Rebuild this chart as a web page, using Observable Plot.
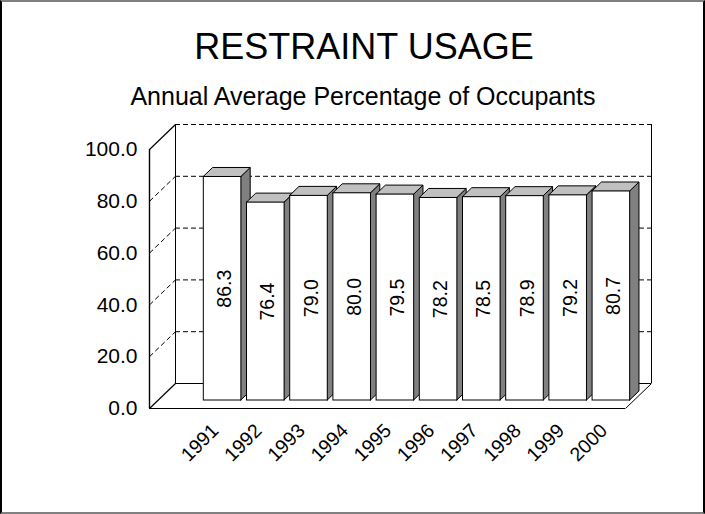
<!DOCTYPE html>
<html><head><meta charset="utf-8">
<script src="https://cdn.jsdelivr.net/npm/d3@7"></script>
<script src="https://cdn.jsdelivr.net/npm/@observablehq/plot@0.6"></script>
<style>
html,body{margin:0;padding:0;background:#fff;}
#page{position:relative;width:705px;height:514px;overflow:hidden;font-family:"Liberation Sans",Arial,sans-serif;color:#000;background:#fff;}
#title{position:absolute;left:23px;width:682px;top:28.5px;font-size:36px;line-height:36px;text-align:center;white-space:nowrap;}
#subtitle{position:absolute;left:21px;width:684px;top:83.8px;font-size:25px;line-height:25px;text-align:center;white-space:nowrap;}
#chart{position:absolute;left:0;top:112px;}
#frame{position:absolute;left:0;top:0;width:705px;height:514px;box-sizing:border-box;border-style:solid;border-width:2px;border-color:#808080 #000 #808080 #000;pointer-events:none;}
</style>
</head><body>
<div id="page">
  <div id="title">RESTRAINT USAGE</div>
  <div id="subtitle">Annual Average Percentage of Occupants</div>
  <div id="chart"></div>
  <div id="frame"></div>
</div>
<script>
// ---- data ----
const years = ["1991","1992","1993","1994","1995","1996","1997","1998","1999","2000"];
const values = [86.3, 76.4, 79.0, 80.0, 79.5, 78.2, 78.5, 78.9, 79.2, 80.7];
const yTicks = [0, 20, 40, 60, 80, 100];
const gridLevels = [20, 40, 60, 80];

// ---- layout ----
const W = 705, H = 400;
const mL = 149, mR = 80, mT = 37, mB = 104;
const X0 = -1.065, X1 = 9.954;
const kx = (W - mL - mR) / (X1 - X0);
const ky = (H - mT - mB) / 100;
const barW = 0.87;
const FRONT = [8.3, -8];   // bar front plane offset (px)
const DEPTH = [9.3, -9];   // bar depth (px)
const WALL = [26, -25];    // back wall offset (px)
const bdx = DEPTH[0] / kx, bdy = -DEPTH[1] / ky;
const wdx = WALL[0] / kx, wdy = -WALL[1] / ky;

const bars = years.map((year, i) => ({year, i, value: values[i]}));
const sides = bars.flatMap(d => [
  {year: d.year, x: d.i + barW, y1: 0, y2: d.value},
  {year: d.year, x: d.i + barW + bdx, y1: bdy, y2: d.value + bdy}
]);
const tops = bars.flatMap(d => [
  {year: d.year, y: d.value, x1: d.i, x2: d.i + barW},
  {year: d.year, y: d.value + bdy, x1: d.i + bdx, x2: d.i + barW + bdx}
]);

const chart = Plot.plot({
  width: W, height: H,
  marginLeft: mL, marginRight: mR, marginTop: mT, marginBottom: mB,
  style: {fontFamily: "'Liberation Sans', Arial, sans-serif", fontSize: "21px", background: "white", color: "black"},
  x: {domain: [X0, X1], axis: null},
  y: {domain: [0, 100], ticks: yTicks, tickFormat: d => d.toFixed(1), tickSize: 0, tickPadding: 12, label: null},
  marks: [
    // back wall
    Plot.ruleY(gridLevels.concat([100]), {x1: X0, x2: X1, dx: WALL[0], dy: WALL[1], stroke: "black", strokeWidth: 1, strokeDasharray: "5,3"}),
    Plot.ruleY([0], {x1: X0, x2: X1, dx: WALL[0], dy: WALL[1], stroke: "black", strokeWidth: 1}),
    Plot.ruleX([X0, X1], {y1: 0, y2: 100, dx: WALL[0], dy: WALL[1], stroke: "black", strokeWidth: 1}),
    // left wall
    Plot.link(gridLevels, {x1: X0, y1: d => d, x2: X0 + wdx, y2: d => d + wdy, stroke: "black", strokeWidth: 1, strokeDasharray: "5,3"}),
    Plot.link([0, 100], {x1: X0, y1: d => d, x2: X0 + wdx, y2: d => d + wdy, stroke: "black", strokeWidth: 1.2}),
    Plot.ruleX([X0], {y1: 0, y2: 100, stroke: "black", strokeWidth: 1.4}),
    // floor
    Plot.ruleY([0], {x1: X0, x2: X1, stroke: "black", strokeWidth: 1.2}),
    Plot.link([0], {x1: X1, y1: 0, x2: X1 + wdx, y2: wdy, stroke: "black", strokeWidth: 1}),
    // bars
    Plot.areaY(sides, {x: "x", y1: "y1", y2: "y2", z: "year", fill: "#808080", stroke: "black", strokeWidth: 1, dx: FRONT[0], dy: FRONT[1]}),
    Plot.areaX(tops, {y: "y", x1: "x1", x2: "x2", z: "year", fill: "#c0c0c0", stroke: "black", strokeWidth: 1, dx: FRONT[0], dy: FRONT[1]}),
    Plot.rect(bars, {x1: "i", x2: d => d.i + barW, y1: 0, y2: "value", fill: "white", stroke: "black", strokeWidth: 1, dx: FRONT[0], dy: FRONT[1]}),
    // value labels
    Plot.text(bars, {x: d => d.i + barW / 2, y: d => d.value / 2, text: d => d.value.toFixed(1), rotate: -90, fontSize: 19.5, fill: "black", dx: FRONT[0] + 2.3, dy: FRONT[1]}),
    // year labels
    Plot.text(bars, {x: d => d.i + barW / 2, y: 0, text: "year", rotate: -45, textAnchor: "end", fontSize: 19.5, fill: "black", dx: 1, dy: 19})
  ]
});
document.getElementById("chart").appendChild(chart);
</script>
</body></html>
